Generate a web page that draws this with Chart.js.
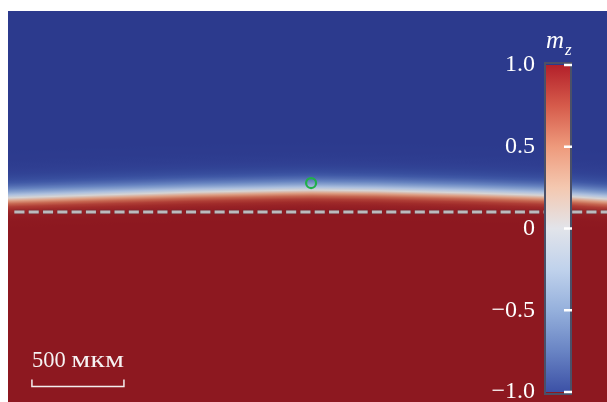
<!DOCTYPE html>
<html><head><meta charset="utf-8">
<script src="https://cdn.jsdelivr.net/npm/chart.js@4.4.1/dist/chart.umd.min.js"></script>
<style>
html,body{margin:0;padding:0;background:#fff;}
#wrap{position:relative;width:607px;height:402px;overflow:hidden;}
#field{position:absolute;left:0;top:0;}
#bar{position:absolute;left:480px;top:0;}
</style></head><body>
<div id="wrap"><canvas id="field" width="607" height="402"></canvas><canvas id="bar" width="127" height="440"></canvas></div>
<script>
// Domain-wall centre line (m_z = 0), coordinates in µm
const wallX = [0, 500, 1000, 1500, 1650, 2000, 2500, 3000, 3255];
const wallY = [1109, 1125, 1140, 1150, 1152, 1148, 1136, 1120, 1103];
// Horizontal reference line (dashed)
const refLineX = [35, 3255];
const refLineY = [1033, 1033];
// Probe location (green ring)
const probeX = [1647];
const probeY = [1190];
// Scale bar
const scaleBarUm = 500;
const scaleBarValue = '500';
const scaleBarUnit = 'мкм';
// Colour bar
const colorTicks = [1.0, 0.5, 0, -0.5, -1.0];
const colorTickLabels = ['1.0', '0.5', '0', '\u22120.5', '\u22121.0'];
// Sample extent, µm
const xRange = [0, 3255];
const yRange = [0, 2125];

// ---- colour maps ----
const fieldStops = [
  [-1.0, [44, 58, 141]],
  [-0.8, [58, 82, 162]],
  [-0.5, [108, 138, 196]],
  [-0.2, [172, 192, 222]],
  [0.0, [214, 212, 212]],
  [0.2, [230, 186, 160]],
  [0.5, [208, 120, 92]],
  [0.8, [170, 54, 48]],
  [1.0, [141, 24, 32]]
];
const barStops = [
  [1.0, '#b3202a'], [0.75, '#d65b4b'], [0.5, '#ee9a7c'], [0.25, '#f4c8b0'],
  [0.0, '#e2e4ea'], [-0.25, '#c0d2ec'], [-0.5, '#95b0dc'], [-0.75, '#6984c4'], [-1.0, '#3c51a6']
];
function fieldColor(m) {
  for (let i = 0; i < fieldStops.length - 1; i++) {
    const [a, ca] = fieldStops[i], [b, cb] = fieldStops[i + 1];
    if (m <= b || i === fieldStops.length - 2) {
      const t = Math.min(1, Math.max(0, (m - a) / (b - a)));
      const c = ca.map((v, k) => Math.round(v + (cb[k] - v) * t));
      return `rgb(${c[0]},${c[1]},${c[2]})`;
    }
  }
}
function interp(xs, ys, x) {
  if (x <= xs[0]) return ys[0];
  for (let i = 0; i < xs.length - 1; i++) {
    if (x <= xs[i + 1]) {
      const t = (x - xs[i]) / (xs[i + 1] - xs[i]);
      return ys[i] + (ys[i + 1] - ys[i]) * t;
    }
  }
  return ys[ys.length - 1];
}
// m_z across the wall; d = pixel distance below the wall centre
function wallProfile(d) {
  return Math.tanh(d / (d < 0 ? 15 : 9));
}

// Paints the m_z map column by column around the wall line
const fieldPlugin = {
  id: 'fieldMap',
  beforeDatasetsDraw(chart) {
    const { ctx, chartArea: a, scales: { x, y } } = chart;
    ctx.save();
    const span = 60, n = 40;
    for (let px = Math.floor(a.left); px < a.right; px++) {
      const wy = y.getPixelForValue(interp(wallX, wallY, x.getValueForPixel(px + 0.5)));
      const g = ctx.createLinearGradient(0, wy - span, 0, wy + span);
      for (let i = 0; i <= n; i++) {
        const t = i / n;
        g.addColorStop(t, fieldColor(wallProfile(-span + 2 * span * t)));
      }
      ctx.fillStyle = g;
      ctx.fillRect(px, a.top, 1, a.bottom - a.top);
    }
    ctx.restore();
  }
};

// Scale bar in the lower-left corner
const scaleBarPlugin = {
  id: 'scaleBar',
  afterDatasetsDraw(chart) {
    const { ctx, scales: { x, y } } = chart;
    const x0 = x.getPixelForValue(130), x1 = x.getPixelForValue(130 + scaleBarUm);
    const yb = y.getPixelForValue(84);
    ctx.save();
    ctx.strokeStyle = '#f3eeee';
    ctx.lineWidth = 1.5;
    ctx.beginPath();
    ctx.moveTo(x0, yb - 7); ctx.lineTo(x0, yb); ctx.lineTo(x1, yb); ctx.lineTo(x1, yb - 7);
    ctx.stroke();
    ctx.fillStyle = '#f6f2f2';
    ctx.font = '22.5px "Liberation Serif"';
    ctx.textBaseline = 'alphabetic';
    ctx.textAlign = 'left';
    const base = yb - 20;
    const head = scaleBarValue + ' ';
    const wHead = ctx.measureText(head).width;
    ctx.fillText(head, x0, base);
    const wUnit = ctx.measureText(scaleBarUnit).width;
    const sx = (x1 - x0 - wHead) / wUnit;
    ctx.translate(x0 + wHead, base);
    ctx.scale(sx, 1);
    ctx.fillText(scaleBarUnit, 0, 0);
    ctx.restore();
  }
};

new Chart(document.getElementById('field'), {
  type: 'scatter',
  data: {
    datasets: [
      {
        label: 'outline',
        data: refLineX.map((v, i) => ({ x: v, y: refLineY[i] })),
        showLine: true, borderColor: 'rgba(60,60,70,0.35)', borderWidth: 4.6,
        borderDash: [10.8, 3.5], borderDashOffset: 0.4, pointRadius: 0
      },
      {
        label: 'reference',
        data: refLineX.map((v, i) => ({ x: v, y: refLineY[i] })),
        showLine: true, borderColor: '#ffffff', borderWidth: 3,
        borderDash: [10, 4.3], pointRadius: 0
      },
      {
        label: 'probe',
        data: probeX.map((v, i) => ({ x: v, y: probeY[i] })),
        pointRadius: 5, pointBorderWidth: 2.2, borderColor: '#20b04a',
        backgroundColor: 'rgba(0,0,0,0)', pointBackgroundColor: 'rgba(0,0,0,0)'
      }
    ]
  },
  options: {
    responsive: false, animation: false, devicePixelRatio: 1,
    layout: { autoPadding: false, padding: { left: 8, top: 11, right: 0, bottom: 0 } },
    plugins: { legend: { display: false }, tooltip: { enabled: false } },
    scales: {
      x: { type: 'linear', min: xRange[0], max: xRange[1], display: false },
      y: { type: 'linear', min: yRange[0], max: yRange[1], display: false }
    }
  },
  plugins: [fieldPlugin, scaleBarPlugin]
});

// Colour bar: frame, tick marks and m_z title
const barDecor = {
  id: 'barDecor',
  afterDatasetsDraw(chart) {
    const { ctx, chartArea: a, scales: { y } } = chart;
    ctx.save();
    ctx.strokeStyle = '#4a5068';
    ctx.lineWidth = 2;
    ctx.strokeRect(a.left - 1, a.top - 2, a.right - a.left + 2, a.bottom - a.top + 4);
    ctx.fillStyle = '#ffffff';
    colorTicks.forEach(v => {
      const py = y.getPixelForValue(v);
      ctx.fillRect(a.right - 6, py - 1.25, 8, 2.5);
    });
    ctx.font = 'italic 25px "Liberation Serif"';
    ctx.textBaseline = 'alphabetic';
    ctx.fillText('m', a.left, 48);
    const mw = ctx.measureText('m').width;
    ctx.font = 'italic 17px "Liberation Serif"';
    ctx.fillText('z', a.left + mw + 1, 55);
    ctx.restore();
  }
};

new Chart(document.getElementById('bar'), {
  type: 'bar',
  data: {
    labels: ['m_z'],
    datasets: [{
      data: [[-1, 1]],
      barPercentage: 1, categoryPercentage: 1, borderWidth: 0,
      backgroundColor(c) {
        const { chart } = c;
        if (!chart.chartArea) return '#ccc';
        const y = chart.scales.y;
        const top = y.getPixelForValue(1), bot = y.getPixelForValue(-1);
        const g = chart.ctx.createLinearGradient(0, top, 0, bot);
        barStops.forEach(([v, col]) => g.addColorStop((1 - v) / 2, col));
        return g;
      }
    }]
  },
  options: {
    responsive: false, animation: false, devicePixelRatio: 1,
    layout: { autoPadding: false, padding: { left: 0, right: 37, top: 65, bottom: 48 } },
    plugins: { legend: { display: false }, tooltip: { enabled: false } },
    scales: {
      x: { display: false },
      y: {
        min: -1, max: 1, position: 'left',
        afterFit(s) { s.width = 66; },
        afterBuildTicks(s) { s.ticks = colorTicks.map(v => ({ value: v })); },
        grid: { display: false, drawTicks: false },
        border: { display: false },
        ticks: {
          autoSkip: false, padding: 11, color: '#ffffff',
          font: { family: 'Liberation Serif', size: 24 },
          callback: v => colorTickLabels[colorTicks.indexOf(v)]
        }
      }
    }
  },
  plugins: [barDecor]
});
</script>
</body></html>
